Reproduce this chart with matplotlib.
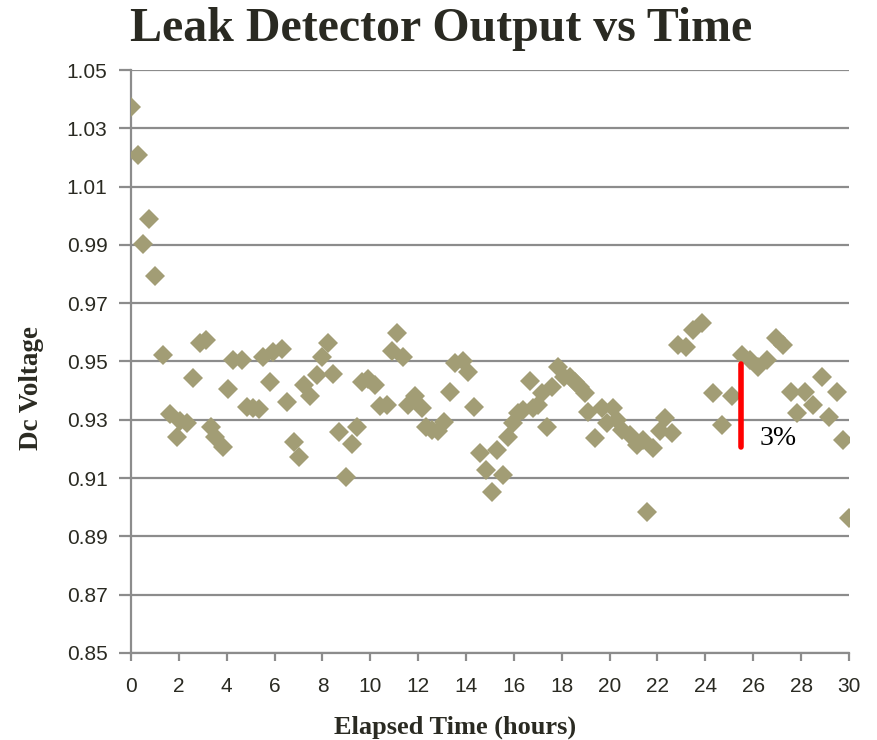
import matplotlib
matplotlib.use("Agg")
import matplotlib.pyplot as plt

# elapsed time (hours) and detector output (V dc)
hours = [0.0, 0.29, 0.5, 0.75, 1.0, 1.35, 1.63, 1.91, 2.05, 2.35,
         2.6, 2.88, 3.13, 3.33, 3.51, 3.86, 4.07, 4.28, 4.62, 4.83,
         5.11, 5.36, 5.53, 5.81, 5.95, 6.3, 6.53, 6.82, 7.03, 7.23,
         7.48, 7.76, 8.0, 8.22, 8.45, 8.7, 8.99, 9.22, 9.43, 9.64,
         9.92, 10.2, 10.4, 10.68, 10.9, 11.13, 11.38, 11.59, 11.87, 12.15,
         12.33, 12.57, 12.84, 13.08, 13.33, 13.54, 13.86, 14.1, 14.33, 14.58,
         14.83, 15.07, 15.28, 15.53, 15.77, 15.97, 16.18, 16.39, 16.67, 16.81,
         17.02, 17.16, 17.4, 17.58, 17.86, 18.1, 18.35, 18.55, 18.76, 18.97,
         19.1, 19.39, 19.67, 19.88, 20.15, 20.29, 20.5, 20.85, 21.13, 21.41,
         21.55, 21.8, 22.1, 22.31, 22.59, 22.87, 23.19, 23.5, 23.85, 24.33,
         24.68, 25.1, 25.52, 25.87, 26.21, 26.56, 26.95, 27.26, 27.56, 27.82,
         28.16, 28.51, 28.86, 29.18, 29.49, 29.77, 30.0]

volts = [1.0374, 1.0208, 0.9902, 0.9988, 0.9793, 0.9522, 0.9319, 0.924, 0.9297, 0.9288,
         0.9442, 0.9562, 0.9574, 0.9276, 0.9242, 0.9208, 0.9406, 0.9505, 0.9505, 0.9343,
         0.934, 0.9337, 0.9517, 0.943, 0.9534, 0.9542, 0.936, 0.9225, 0.9173, 0.9419,
         0.938, 0.9454, 0.9517, 0.9565, 0.9457, 0.9257, 0.9105, 0.9217, 0.9276, 0.9431,
         0.9439, 0.9419, 0.9347, 0.9351, 0.9537, 0.9597, 0.9517, 0.9351, 0.938, 0.934,
         0.9276, 0.9265, 0.926, 0.9293, 0.9397, 0.9494, 0.95, 0.9465, 0.9343, 0.9185,
         0.9128, 0.9053, 0.9196, 0.9111, 0.9242, 0.9288, 0.9322, 0.9334, 0.9434, 0.934,
         0.9351, 0.9391, 0.9274, 0.9414, 0.9482, 0.9446, 0.9448, 0.9431, 0.9414, 0.9391,
         0.9328, 0.9236, 0.934, 0.9288, 0.934, 0.93, 0.9265, 0.9248, 0.9214, 0.9231,
         0.8985, 0.9202, 0.926, 0.9305, 0.9254, 0.9557, 0.9551, 0.9608, 0.9631, 0.9391,
         0.9282, 0.938, 0.9522, 0.9505, 0.9482, 0.9505, 0.958, 0.9557, 0.9397, 0.9322,
         0.9397, 0.9351, 0.9446, 0.9311, 0.9397, 0.9231, 0.8962]

# the red "3%" bar
bar_x = 25.5
bar_lo, bar_hi = 0.9208, 0.949

xticks = list(range(0, 31, 2))
yticks = [0.85, 0.87, 0.89, 0.91, 0.93, 0.95, 0.97, 0.99, 1.01, 1.03, 1.05]

grid_c = "#8c8c8c"
txt_c = "#2a2a22"

fig = plt.figure(figsize=(8.77, 7.40), dpi=100)
ax = fig.add_axes([0.1494, 0.1176, 0.8186, 0.7878])

ax.plot(hours, volts, linestyle="none", marker="D", markersize=10.5,
        color="#a29d75", markeredgewidth=0, zorder=3)

ax.plot([bar_x, bar_x], [bar_lo, bar_hi], color="#ff0000", lw=4,
        solid_capstyle="round", zorder=4)
ax.text(26.25, 0.9237, "3%", fontsize=20, family="Liberation Serif",
        color="black", va="center", ha="left")

ax.set_xlim(0, 30)
ax.set_ylim(0.85, 1.05)
ax.set_xticks(xticks)
ax.set_yticks(yticks)
ax.set_yticklabels([f"{v:.2f}" for v in yticks])

ax.grid(axis="y", color=grid_c, lw=1.6)
ax.set_axisbelow(True)
for s in ["top", "right"]:
    ax.spines[s].set_visible(False)
for s in ["left", "bottom"]:
    ax.spines[s].set_color(grid_c)
    ax.spines[s].set_linewidth(1.6)

ax.tick_params(axis="y", length=9, width=1.6, color=grid_c, pad=8,
               labelsize=15, labelcolor=txt_c)
ax.tick_params(axis="x", length=6, width=1.6, color=grid_c, pad=11,
               labelsize=15, labelcolor=txt_c)
for lab in ax.get_xticklabels() + ax.get_yticklabels():
    lab.set_family("Liberation Sans")

fig.text(0.503, 0.961, "Leak Detector Output vs Time", ha="center", va="center",
         fontsize=34.5, fontweight="bold", family="Liberation Serif", color=txt_c)
ax.set_xlabel("Elapsed Time (hours)", fontsize=19, fontweight="bold",
              family="Liberation Serif", color=txt_c, va="center")
ax.set_ylabel("Dc Voltage", fontsize=19.5, fontweight="bold",
              family="Liberation Serif", color=txt_c, va="center")
ax.xaxis.set_label_coords(0.451, -0.128)
ax.yaxis.set_label_coords(-0.139, 0.455)

fig.savefig("out.png", dpi=100)
